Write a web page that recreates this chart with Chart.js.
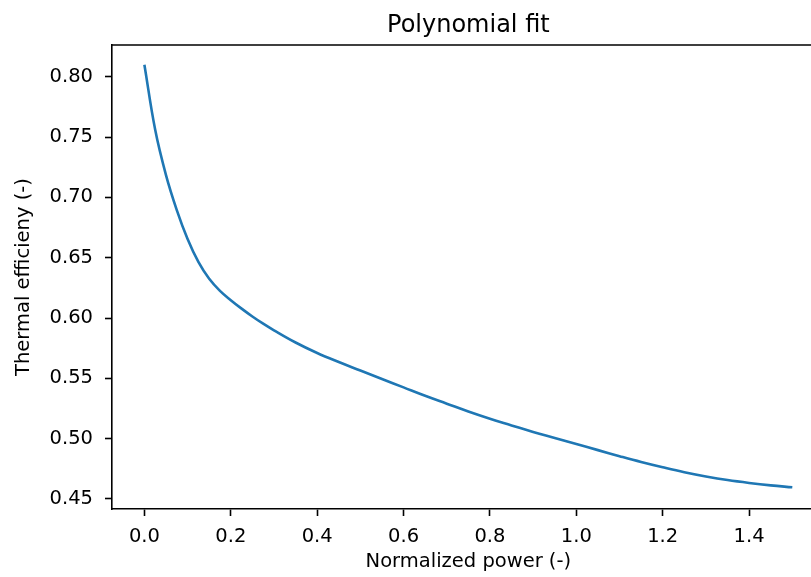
<!DOCTYPE html>
<html>
<head>
<meta charset="utf-8">
<script src="https://cdn.jsdelivr.net/npm/chart.js@4"></script>
<style>
  html,body{margin:0;padding:0;background:#fff;overflow:hidden;width:811px;height:577px}
  canvas{display:block}
</style>
</head>
<body>
<canvas id="chart" width="840" height="577"></canvas>
<script>
// data
var powerValues=[0,0.025,0.05,0.075,0.1,0.125,0.15,0.175,0.2,0.225,0.25,0.275,0.3,0.35,0.4,0.45,0.5,0.55,0.6,0.65,0.7,0.75,0.8,0.85,0.9,0.95,1.0,1.05,1.1,1.15,1.2,1.25,1.3,1.35,1.4,1.45,1.5]
var efficiencyValues=[0.810,0.756,0.7185,0.6895,0.6655,0.6465,0.6325,0.6225,0.6148,0.6078,0.6013,0.5953,0.5898,0.5797,0.571,0.5635,0.5565,0.5495,0.5425,0.5355,0.529,0.5225,0.5165,0.511,0.5055,0.5005,0.4955,0.4905,0.4855,0.4807,0.4763,0.4722,0.4687,0.4657,0.4633,0.4613,0.4597]
var xTicks=[0,0.2,0.4,0.6,0.8,1.0,1.2,1.4]
var yTicks=[0.45,0.50,0.55,0.60,0.65,0.70,0.75,0.80]

var points=[]
powerValues.forEach((p,i)=>{
    points.push({x:p,y:efficiencyValues[i]})
})

var font={family:"'DejaVu Sans', sans-serif",size:19.5}

// matplotlib draws a box round the axes, Chart.js only left + bottom
var topSpine={
    id:'topSpine',
    afterDraw:(chart)=>{
        var a=chart.chartArea
        var ctx=chart.ctx
        ctx.save()
        ctx.strokeStyle='#000'
        ctx.lineWidth=1.6
        ctx.beginPath()
        ctx.moveTo(a.left-0.8,a.top)
        ctx.lineTo(a.right+0.8,a.top)
        ctx.moveTo(a.right,a.top)
        ctx.lineTo(a.right,a.bottom)
        ctx.stroke()
        ctx.restore()
    }
}

var ctx=document.getElementById('chart').getContext('2d')
var myChart=new Chart(ctx,{
    type:'line',
    data:{
        datasets:[{
            data:points,
            borderColor:'#1f77b4',
            borderWidth:2.6,
            pointRadius:0,
            fill:false,
            tension:0.4
        }]
    },
    options:{
        responsive:false,
        animation:false,
        devicePixelRatio:1,
        layout:{padding:{left:0,top:0,bottom:0,right:15.3}},
        plugins:{
            legend:{display:false},
            tooltip:{enabled:false},
            title:{
                display:true,
                text:'Polynomial fit',
                fullSize:false,
                color:'#000',
                font:{family:font.family,size:24,weight:'normal'},
                padding:{top:11,bottom:5.2}
            }
        },
        scales:{
            x:{
                type:'linear',
                min:-0.075,
                max:1.575,
                afterBuildTicks:(s)=>{s.ticks=xTicks.map(v=>({value:v}))},
                afterFit:(s)=>{s.height=68},
                ticks:{
                    color:'#000',font:font,padding:9,maxRotation:0,
                    callback:(v)=>v.toFixed(1)
                },
                grid:{drawOnChartArea:false,drawTicks:true,tickLength:7,tickWidth:1.6,tickColor:'#000'},
                border:{display:true,color:'#000',width:1.6},
                title:{display:true,text:'Normalized power (-)',color:'#000',font:font,padding:{top:0,bottom:3}}
            },
            y:{
                type:'linear',
                min:0.4417,
                max:0.8263,
                afterBuildTicks:(s)=>{s.ticks=yTicks.map(v=>({value:v}))},
                afterFit:(s)=>{s.width=112},
                ticks:{
                    color:'#000',font:font,padding:12,
                    callback:(v)=>v.toFixed(2)
                },
                grid:{drawOnChartArea:false,drawTicks:true,tickLength:7,tickWidth:1.6,tickColor:'#000'},
                border:{display:true,color:'#000',width:1.6},
                title:{display:true,text:'Thermal efficieny (-)',color:'#000',font:font,padding:{top:12,bottom:0}}
            }
        }
    },
    plugins:[topSpine]
})
</script>
</body>
</html>
